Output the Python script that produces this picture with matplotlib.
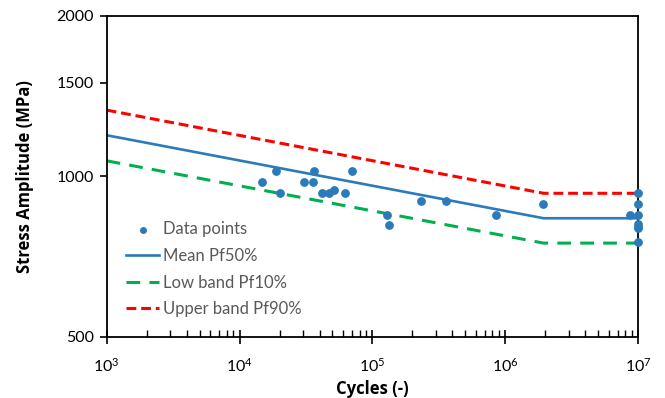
import numpy as np
import matplotlib
matplotlib.use("Agg")
import matplotlib.pyplot as plt
from matplotlib.ticker import FixedLocator, LogLocator, NullLocator, FuncFormatter, NullFormatter

plt.rcParams['font.family'] = ['Lato', 'DejaVu Sans']
plt.rcParams['mathtext.default'] = 'regular'

# test data (cycles to failure, stress amplitude in MPa)
cycles = [14800, 18700, 20300, 30800, 36000, 36500, 41800, 47000, 51000,
          62500, 70000, 128000, 133000, 230000, 360000, 850000, 1.93e6,
          8.6e6, 1e7, 1e7, 1e7, 1e7, 1e7, 1e7, 1e7]
stress = [976, 1022, 932, 976, 976, 1022, 932, 932, 944,
          932, 1022, 846, 810, 898, 898, 845, 887,
          848, 930, 887, 848, 815, 805, 800, 753]

# S-N curves: sloped part up to the knee, then flat to 1e7
curve_n = [1e3, 1.94e6, 1e7]
mean_s = [1195, 835, 835]
low_s = [1070, 750, 750]
upper_s = [1332, 930, 930]

yticks = [500, 1000, 1500, 2000]

blue = '#2b7bba'
green = '#00b050'
red = '#ff0000'

fig = plt.figure(figsize=(6.65, 3.98), dpi=100)
ax = fig.add_axes([0.1604, 0.1533, 0.7994, 0.8065])

ax.plot(curve_n, upper_s, color=red, lw=2.2, dashes=(3.2, 1.6), label='Upper band Pf90%', zorder=2)
ax.plot(curve_n, mean_s, color=blue, lw=1.9, label='Mean Pf50%', zorder=2)
ax.plot(curve_n, low_s, color=green, lw=2.2, dashes=(4.5, 3.0), label='Low band Pf10%', zorder=2)
ax.scatter(cycles, stress, s=28, color=blue, label='Data points', zorder=3, clip_on=False)

ax.set_xscale('log')
ax.set_yscale('log')
ax.set_xlim(1e3, 1e7)
ax.set_ylim(500, 2000)

ax.yaxis.set_major_locator(FixedLocator(yticks))
ax.yaxis.set_minor_locator(NullLocator())
ax.yaxis.set_major_formatter(FuncFormatter(lambda v, p: f"{v:.0f}"))
ax.yaxis.set_minor_formatter(NullFormatter())

ax.xaxis.set_major_locator(LogLocator(base=10, numticks=10))
ax.xaxis.set_minor_locator(LogLocator(base=10, subs=np.arange(2, 10), numticks=50))
ax.xaxis.set_major_formatter(FuncFormatter(lambda v, p: r'$10^{%d}$' % round(np.log10(v))))

for s in ax.spines.values():
    s.set_linewidth(1.3)
    s.set_color('black')

ax.tick_params(axis='y', which='major', direction='out', length=5, width=1.2,
               labelsize=11.5, colors='black', pad=4)
ax.tick_params(axis='x', which='major', direction='inout', length=10, width=1.2,
               labelsize=11.5, pad=9)
ax.tick_params(axis='x', which='minor', direction='in', length=5, width=1.0)

ax.set_xlabel('Cycles (-)', fontsize=12, fontweight='bold', family='Open Sans', labelpad=4)
ax.set_ylabel('Stress Amplitude (MPa)', fontsize=12, fontweight='bold', family='Open Sans', labelpad=16)

handles, labels = ax.get_legend_handles_labels()
order = [3, 1, 2, 0]
leg = ax.legend([handles[i] for i in order], [labels[i] for i in order],
                loc='lower left', bbox_to_anchor=(0.008, 0.015), frameon=False,
                fontsize=12, handlelength=2.0, handletextpad=0.25, labelspacing=0.64,
                markerscale=0.75)
for t in leg.get_texts():
    t.set_color('#595959')

fig.savefig('out.png', dpi=100)
